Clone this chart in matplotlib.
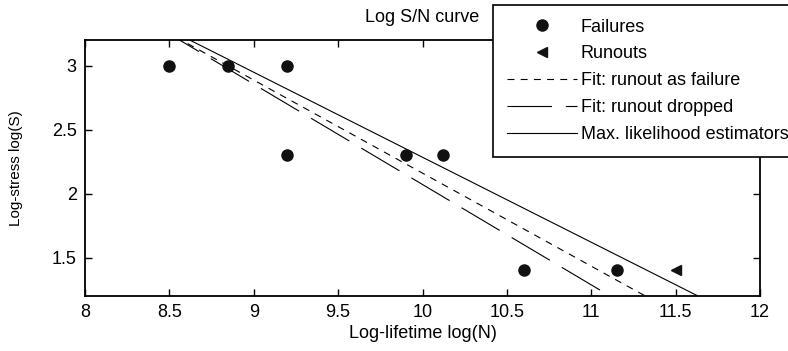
import numpy as np
import matplotlib.pyplot as plt

plt.rcParams["font.family"] = ["Liberation Sans", "DejaVu Sans"]
plt.rcParams["lines.scale_dashes"] = False

# failures (log N, log S)
fail_logN = [8.5, 8.85, 9.2, 9.2, 9.9, 10.12, 10.6, 11.15]
fail_logS = [3.0, 3.0, 3.0, 2.3, 2.3, 2.3, 1.4, 1.4]
# runouts
run_logN = [11.5]
run_logS = [1.4]

# fitted lines logS = a + b*logN
fit_fail = (9.430, -0.727)      # runout as failure
fit_drop = (9.911, -0.784)      # runout dropped
fit_mle = (8.924, -0.664)       # max likelihood

xticks = [8, 8.5, 9, 9.5, 10, 10.5, 11, 11.5, 12]
yticks = [1.5, 2, 2.5, 3]

fig = plt.figure(figsize=(7.88, 3.51), dpi=100)
ax = fig.add_axes([85/788, 1-296/351, 675/788, 256/351])

xx = np.array([8, 12])
ax.plot(fail_logN, fail_logS, 'o', color='#111111', ms=8, label='Failures', zorder=3)
ax.plot(run_logN, run_logS, '<', color='#111111', ms=7, label='Runouts', zorder=3)
ax.plot(xx, fit_fail[0] + fit_fail[1]*xx, color='k', lw=0.8,
        ls=(0, (5, 4.5)), label='Fit: runout as failure')
ax.plot(xx, fit_drop[0] + fit_drop[1]*xx, color='k', lw=0.8,
        ls=(0, (32, 10)), label='Fit: runout dropped')
ax.plot(xx, fit_mle[0] + fit_mle[1]*xx, color='k', lw=0.8,
        label='Max. likelihood estimators')

ax.set_xlim(8, 12)
ax.set_ylim(1.2, 3.2)
ax.set_xticks(xticks)
ax.set_xticklabels(['8', '8.5', '9', '9.5', '10', '10.5', '11', '11.5', '12'])
ax.set_yticks(yticks)
ax.set_yticklabels(['1.5', '2', '2.5', '3'])
ax.tick_params(direction='in', length=5, width=1, top=True, right=True,
               labelsize=13, pad=6)
for s in ax.spines.values():
    s.set_linewidth(1.3)

ax.set_xlabel('Log-lifetime log(N)', fontsize=13, labelpad=3)
ax.set_ylabel('Log-stress log(S)', fontsize=11)
ax.yaxis.set_label_coords(-62/675, 0.5)
ax.set_title('Log S/N curve', fontsize=13, pad=13)

leg = ax.legend(loc='upper left', bbox_to_anchor=(493/788, 1-5/351),
                bbox_transform=fig.transFigure, borderaxespad=0,
                fontsize=13, frameon=True, fancybox=False, framealpha=1,
                edgecolor='k', handlelength=3.9, handletextpad=0.2,
                labelspacing=0.55, borderpad=0.75, numpoints=1)
leg.get_frame().set_linewidth(1.2)

fig.savefig('out.png', dpi=100)
